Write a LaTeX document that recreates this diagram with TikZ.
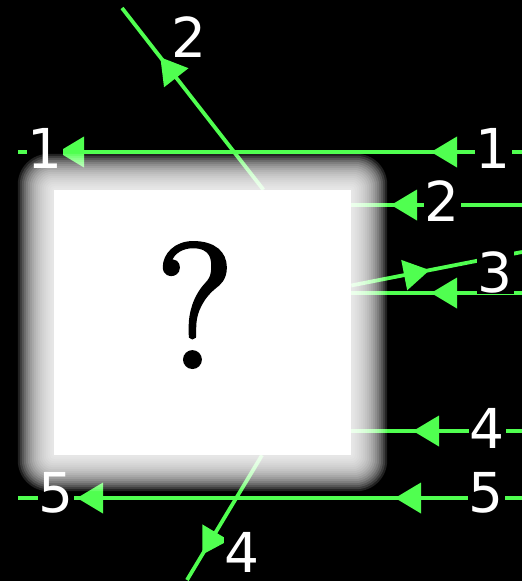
\documentclass[tikz,border=0pt]{standalone}
\usepackage{fontspec}
\newfontfamily\labelfont{DejaVu Sans}
\newfontfamily\qfont[FakeBold=2.5]{Latin Modern Roman}
\usepackage{xcolor}
\usetikzlibrary{arrows.meta, calc, decorations.markings}

\definecolor{raygreen}{RGB}{80,255,80}

\pgfdeclarelayer{bg}
\pgfdeclarelayer{rays}
\pgfdeclarelayer{halo}
\pgfsetlayers{bg,rays,halo,main}

\begin{document}
\begin{tikzpicture}[
  x=1pt, y=-1pt,
  ray/.style={draw=raygreen, line width=3.8pt},
  head/.style={postaction={decorate, decoration={markings, mark=at position #1 with {\arrow{Triangle[length=26pt, width=30pt]}}}}},
  num/.style={text=white, fill=black, inner sep=1pt, font=\labelfont\fontsize{55}{60}\selectfont},
  glow/.style={fill=white, fill opacity=0.13, rounded corners=#1}
]

\useasboundingbox (0,0) rectangle (522,581);
\begin{pgfonlayer}{bg}
\fill[black] (0,0) rectangle (522,581);
\end{pgfonlayer}

% the black box
\node[fill=white, minimum width=297pt, minimum height=265pt, inner sep=0pt] (box) at (202.5,322.5) {};
\node[font=\qfont\fontsize{176}{180}\selectfont, inner sep=0pt] (qmark) at (195,305) {?};

\begin{pgfonlayer}{halo}
\foreach \k [evaluate=\k as \r using 2+1.6*\k] in {1,...,18}
  \fill[glow=\r pt] ($(box.north west)+(-2*\k,-2*\k)$) rectangle ($(box.south east)+(2*\k,2*\k)$);
\end{pgfonlayer}

% free ends of the rays
\coordinate (r1e) at (522,152);
\coordinate (r1w) at (18,152);
\coordinate (r2e) at (522,205);
\coordinate (r2t) at (122,8);
\coordinate (r3e) at (522,293);
\coordinate (r3o) at (522,252);
\coordinate (r4e) at (522,431);
\coordinate (r4b) at (187,580);
\coordinate (r5e) at (522,498);
\coordinate (r5w) at (18,498);

% ends on the box
\coordinate (r2x) at ($(box.north west)!0.705!(box.north east)$);
\coordinate (r3x) at ([yshift=37pt]box.east);
\coordinate (r4x) at ($(box.south west)!0.7!(box.south east)$);

\begin{pgfonlayer}{rays}
\draw[ray, head=91pt, head=464pt] (r1e) -- (r1w);
\draw[ray, head=131pt] (r2e) -- (r2e -| box.east);
\draw[ray, head=168pt] (r2x) -- (r2t);
\draw[ray, head=91pt] (r3e) -- (r3e -| box.east);
\draw[ray, head=80pt] (r3x) -- (r3o);
\draw[ray, head=109pt] (r4e) -- (r4e -| box.east);
\draw[ray, head=116pt] (r4x) -- (r4b);
\draw[ray, head=127pt, head=445pt] (r5e) -- (r5w);

\node[num] (n1w) at (45,148) {1};
\node[num] (n1e) at (493,148) {1};
\node[num] (n2t) at (189,37) {2};
\node[num] (n2e) at (442,201) {2};
\node[num] (n3) at (495,272) {3};
\node[num] (n4e) at (487,428) {4};
\node[num] (n4b) at (242,552) {4};
\node[num] (n5w) at (56,493) {5};
\node[num] (n5e) at (486,493) {5};
\end{pgfonlayer}

\end{tikzpicture}
\end{document}
